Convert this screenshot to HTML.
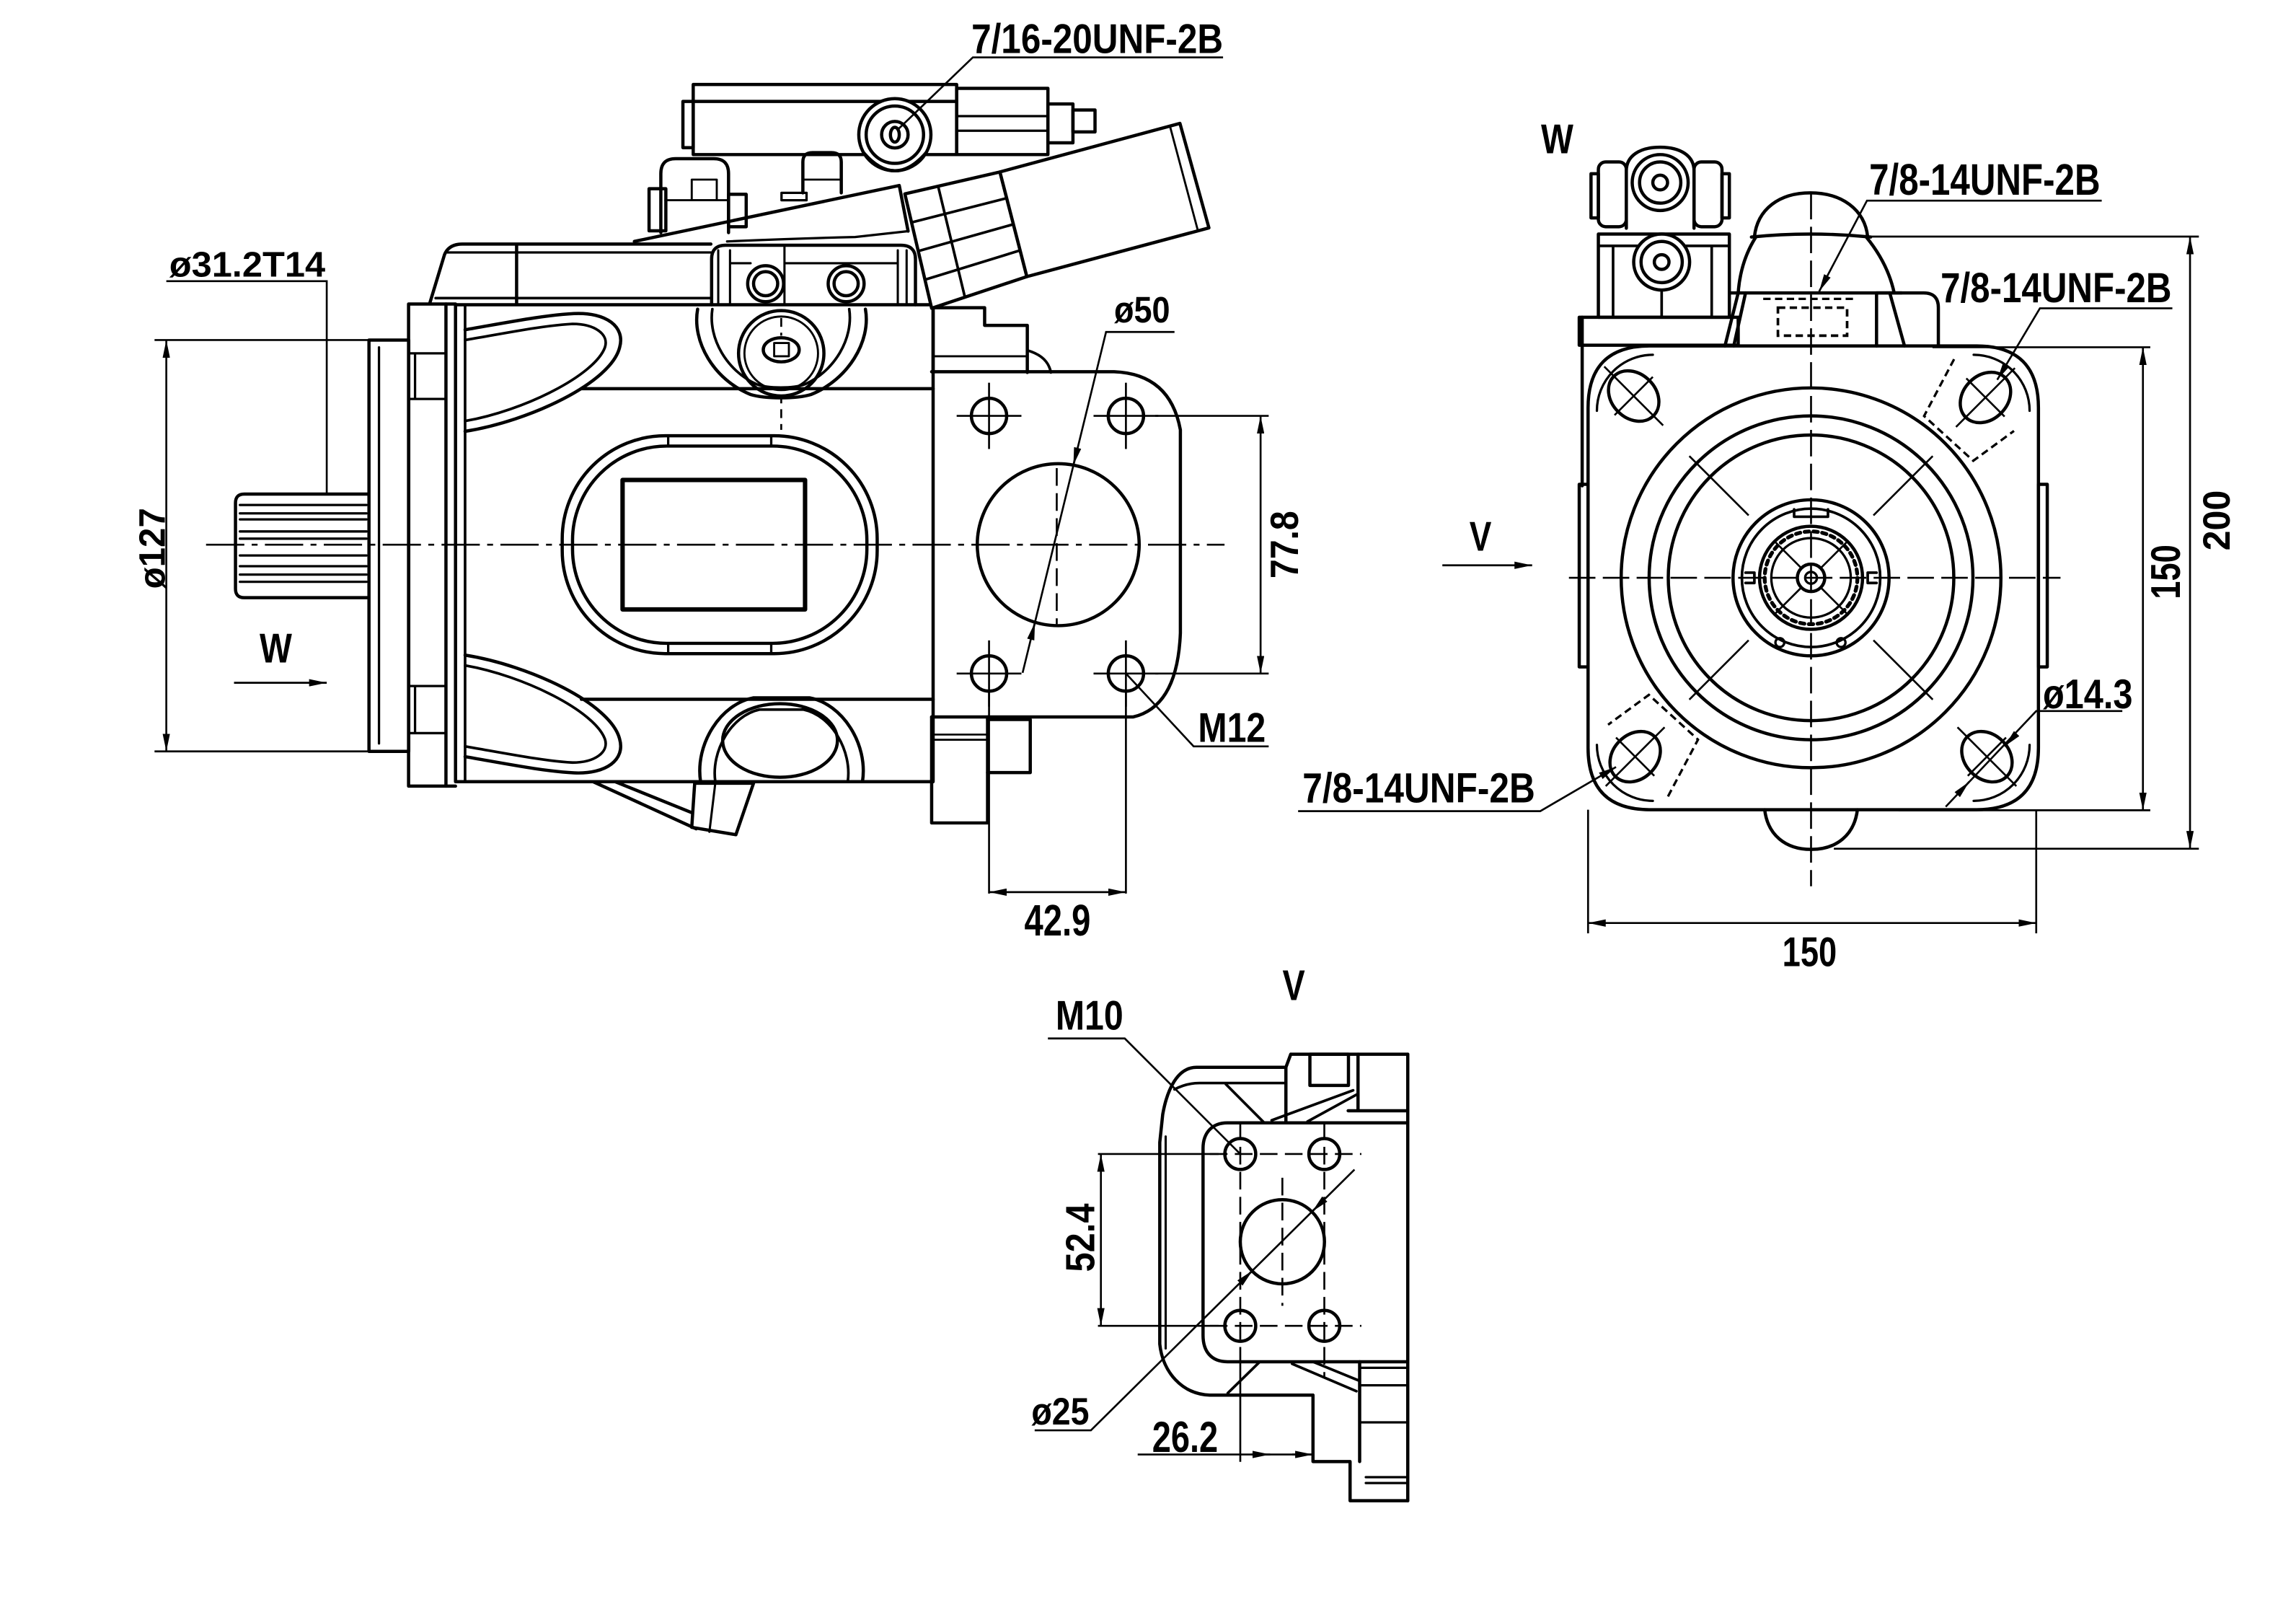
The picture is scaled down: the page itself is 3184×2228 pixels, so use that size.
<!DOCTYPE html>
<html><head><meta charset="utf-8">
<style>
html,body{margin:0;padding:0;background:#fff;}
svg{display:block;}
text{font-family:"Liberation Sans",Arial,sans-serif;font-weight:bold;fill:#000;}
</style></head><body>
<svg xmlns="http://www.w3.org/2000/svg" width="3184" height="2228" viewBox="0 0 1560 1091.6" preserveAspectRatio="none">
<defs>
<marker id="a" viewBox="0 0 12 5" markerWidth="12" markerHeight="5" refX="12" refY="2.5" orient="auto-start-reverse" markerUnits="userSpaceOnUse"><path d="M0,0L12,2.5L0,5Z" fill="#000"/></marker>
</defs>
<rect width="1560" height="1091.6" fill="#fff"/>

<!-- ================= LEFT VIEW ================= -->
<g fill="none" stroke="#000" stroke-width="2.2" stroke-linejoin="round" stroke-linecap="round">
  <!-- spline shaft -->
  <path d="M250,335.6H166Q160,335.6 160,341.6V400Q160,406 166,406H250"/>
  <g stroke-width="1.6">
    <path d="M163,343H249M163,348.7H249M163,352.8H249M163,361H249M163,365.9H249M163,377.3H249M163,384.6H249M163,390.3H249M163,395.2H249"/>
  </g>
  <!-- pilot -->
  <rect x="250.7" y="231" width="27" height="279.4"/>
  <path d="M257.5,236V505" stroke-width="1.6"/>
  <!-- flange -->
  <rect x="277.6" y="206.5" width="25.4" height="327.5"/>
  <path d="M279,240H302M279,271H302M279,466H302M279,498H302M282,240V271M282,466V498" stroke-width="1.6"/>
  <!-- body -->
  <path d="M303,206.5H309.5M303,534H309.5"/>
  <rect x="309.5" y="207" width="324.5" height="324"/>
  <path d="M316,207V531" stroke-width="1.8"/>
  <path d="M395,264H634M395,475H634"/>
  <!-- top lobe -->
  <path d="M316,224C345,219 370,214 390,213C412,212 425,222 421,236C415,260 360,286 316,293"/>
  <path d="M316,231C345,226 370,221 389,220C404,220 414,227 411,236C404,255 356,279 316,286" stroke-width="1.8"/>
  <!-- bottom lobe -->
  <g transform="matrix(1 0 0 -1 0 738)">
    <path d="M316,224C345,219 370,214 390,213C412,212 425,222 421,236C415,260 360,286 316,293"/>
    <path d="M316,231C345,226 370,221 389,220C404,220 414,227 411,236C404,255 356,279 316,286" stroke-width="1.8"/>
  </g>
  <!-- oval window -->
  <rect x="382" y="296" width="214" height="148" rx="70" ry="70"/>
  <rect x="389" y="303" width="200" height="134" rx="64" ry="64"/>
  <path d="M454,296V303M524,296V303M454,437V444M524,437V444" stroke-width="1.6"/>
  <rect x="423" y="326" width="124" height="88" stroke-width="3"/>
  <!-- top cover -->
  <path d="M292,206L302,173Q305,165.8 314,165.8H483"/>
  <path d="M304,171.5H483" stroke-width="1.6"/>
  <path d="M351,166V206"/>
  <path d="M296,202.5H483" stroke-width="1.8"/>
  <!-- port block with two circles -->
  <path d="M483.5,207V176Q483.5,166.6 493,166.6H612Q622,166.6 622,176V207"/>
  <path d="M488,170V207M496,170V207M533,166.6V207M610,170V207M616,170V207M496,178.8H510M533,178.8H610" stroke-width="1.5"/>
  <circle cx="520.2" cy="192.7" r="12.2" fill="#fff"/>
  <circle cx="520.2" cy="192.7" r="8.2"/>
  <circle cx="574.9" cy="192.7" r="12.2" fill="#fff"/>
  <circle cx="574.9" cy="192.7" r="8.2"/>
  <!-- gauge port -->
  <path d="M474,210C470,232 485,258 510,268C520,271 541,271 551,268C576,258 592,232 588,210"/>
  <path d="M484,210C481,230 494,252 514,261C522,264 539,264 547,261C567,252 580,230 577,210" stroke-width="1.8"/>
  <circle cx="530.8" cy="240" r="29"/>
  <circle cx="530.8" cy="240" r="25" stroke-width="1.4"/>
  <ellipse cx="530.8" cy="237.6" rx="12.2" ry="8.2"/>
  <rect x="526" y="233" width="10" height="9" stroke-width="1.4"/>
  <!-- lower port -->
  <path d="M476,531C472,505 490,478 512,474H550C572,478 590,505 586,531"/>
  <path d="M486,531C483,510 497,486 516,482H546C565,486 579,510 576,531" stroke-width="1.8"/>
  <ellipse cx="530" cy="503" rx="39" ry="25"/>
  <!-- drain -->
  <path d="M403,531L473,563M418,531L470,552"/>
  <polygon points="472,532 512,532 500,567 470,562"/>
  <path d="M486,532L482,565" stroke-width="1.5"/>
  <!-- upper right block -->
  <path d="M634,209V253M634,209H669V221H698V253"/>
  <path d="M634,242H698" stroke-width="1.4"/>
  <path d="M698,238Q712,242 714,253" stroke-width="1.8"/>
  <!-- flange SAE -->
  <path d="M633,252.5H757Q795,254 802,292V430Q800,480 770,487H633"/>
  <circle cx="672" cy="282.5" r="12"/>
  <circle cx="765" cy="282.5" r="12"/>
  <circle cx="672" cy="457.5" r="12"/>
  <circle cx="765" cy="457.5" r="12"/>
  <circle cx="719" cy="370" r="55"/>
  <!-- lower block -->
  <path d="M633,487V559H671V487"/>
  <path d="M671,488.7H700V524.8H671"/>
  <path d="M633,499H671M633,502.5H671" stroke-width="1.3"/>
  <!-- valve assembly -->
  <path d="M431,164L611,126L617,157"/>
  <path d="M494,164Q540,162 581,161L617,157" stroke-width="1.6"/>
  <rect x="441" y="128.2" width="11.4" height="28.6"/>
  <path d="M449,158V118Q449,107.8 459,107.8H485Q495,107.8 495,118V158"/>
  <rect x="470" y="122" width="17" height="14" stroke-width="1.4"/>
  <path d="M452,136H495" stroke-width="1.4"/>
  <rect x="495" y="132" width="12" height="22"/>
  <path d="M545.5,131V110Q545.5,103.7 552,103.7H565Q571.6,103.7 571.6,110V131"/>
  <path d="M545.5,122H571.6" stroke-width="1.4"/>
  <rect x="531" y="131" width="17" height="5" stroke-width="1.6"/>
  <rect x="471" y="57.4" width="179" height="47.6"/>
  <path d="M471,68.9H650"/>
  <rect x="464" y="68.9" width="7" height="31.4"/>
  <rect x="650" y="60" width="62" height="45"/>
  <path d="M650,78.9H712M650,88.8H712" stroke-width="1.6"/>
  <rect x="712" y="70.6" width="17" height="26.4"/>
  <rect x="729" y="74.7" width="15" height="14.9"/>
  <circle cx="608" cy="91.5" r="24.5" fill="#fff"/>
  <circle cx="608" cy="91.5" r="19.5"/>
  <circle cx="608" cy="91.5" r="9"/>
  <ellipse cx="608" cy="91.5" rx="3" ry="5"/>
  <path d="M587,104Q608,128 629,104"/>
  <!-- connector -->
  <polygon points="614.8,131.7 679.4,116.8 697.7,187.9 633,209.4" fill="#fff"/>
  <path d="M619.35,151.1L683.98,134.6M623.9,170.55L688.55,152.35M628.45,190L693.1,170.1M637.4,126.5L655.6,201.9" stroke-width="1.8"/>
  <!-- solenoid -->
  <polygon points="679.4,116.8 801.7,83.8 821.4,154.8 697.7,187.9" fill="#fff"/>
  <path d="M795,86L814,157" stroke-width="1.4"/>
</g>

<!-- left view dims & center lines -->
<g fill="none" stroke="#000" stroke-width="1.3">
  <path d="M140,370H832" stroke-dasharray="26 5 4 5"/>
  <path d="M530.8,268V292M530.8,216V228" stroke-dasharray="6 4"/>
  <path d="M718,318V424" stroke-dasharray="12 5"/>
  <path d="M650,282.5H694M743,282.5H787M650,457.5H694M743,457.5H787M672,260V305M765,260V305M672,435V480M765,435V480"/>
  <path d="M113,191H222V335.6"/>
  <path d="M105,231H250M105,510.4H250"/>
  <path d="M113,231V510.4" marker-start="url(#a)" marker-end="url(#a)"/>
  <path d="M785,282.5H862M785,457.5H862"/>
  <path d="M856.5,282.5V457.5" marker-start="url(#a)" marker-end="url(#a)"/>
  <path d="M672,470V607M765,470V607"/>
  <path d="M672,606H765" marker-start="url(#a)" marker-end="url(#a)"/>
  <path d="M798,225.5H751.5L694.8,457"/>
  <path d="M732.2,304.2L729.3,315.9" marker-end="url(#a)"/>
  <path d="M700.3,434.5L703.2,422.8" marker-end="url(#a)"/>
  <path d="M862,507H811L765,457.5"/>
  <path d="M159,463.8H222" marker-end="url(#a)"/>
  <path d="M831,39H661L610,88"/>
</g>

<!-- ================= RIGHT VIEW ================= -->
<g fill="none" stroke="#000" stroke-width="2.2" stroke-linejoin="round" stroke-linecap="round">
  <!-- valve -->
  <path d="M1075,215.5V330"/>
  <rect x="1073" y="215.5" width="108" height="19"/>
  <rect x="1086" y="159" width="89" height="56.5"/>
  <path d="M1086,167H1175M1096,167V215.5M1163,167V215.5M1129,197V215.5" stroke-width="1.8"/>
  <rect x="1086" y="110" width="19" height="44" rx="5"/>
  <rect x="1151" y="110" width="19" height="44" rx="5"/>
  <rect x="1081" y="118" width="5" height="30"/>
  <rect x="1170" y="118" width="5" height="30"/>
  <path d="M1105,155V116C1105,106 1114,100 1128,100C1142,100 1151,106 1151,116V155" fill="#fff"/>
  <circle cx="1128" cy="124" r="19" fill="#fff"/>
  <circle cx="1128" cy="124" r="14"/>
  <circle cx="1128" cy="124" r="5"/>
  <circle cx="1129" cy="178" r="19" fill="#fff"/>
  <circle cx="1129" cy="178" r="14"/>
  <circle cx="1129" cy="178" r="5"/>
  <!-- dome -->
  <path d="M1192,161C1194,142 1209,131 1230,131C1251,131 1267,142 1269,161"/>
  <path d="M1190,161Q1230,157 1271,161"/>
  <path d="M1193,161C1186,172 1182,185 1181,199M1268,161C1277,172 1284,185 1287,199M1176,199H1292"/>
  <path d="M1186,199L1178,235M1181,199L1172,235M1284,199L1294,235"/>
  <path d="M1275,235V199H1307Q1317,199 1317,209V235"/>
  <!-- square flange -->
  <path d="M1121,235H1343Q1385,235 1385,277V508Q1385,550 1343,550H1121Q1079,550 1079,508V277Q1079,235 1121,235Z"/>
  <path d="M1085,279A38,38 0 0 1 1123,241M1341,241A38,38 0 0 1 1379,279M1379,506A38,38 0 0 1 1341,544M1123,544A38,38 0 0 1 1085,506" stroke-width="1.6"/>
  <rect x="1073" y="329" width="6" height="124"/>
  <rect x="1385" y="329" width="6" height="124"/>
  <!-- circles -->
  <circle cx="1230.5" cy="392.5" r="129"/>
  <circle cx="1230.5" cy="392.5" r="110"/>
  <circle cx="1230.5" cy="392.5" r="97"/>
  <circle cx="1230.5" cy="392.5" r="53"/>
  <circle cx="1230.5" cy="392.5" r="47" stroke-width="1.8"/>
  <path d="M1219,346V351H1242V346M1186,389H1192V396H1186M1275,389H1269V396H1275" stroke-width="1.8"/>
  <circle cx="1209.3" cy="436.5" r="3" stroke-width="1.6"/>
  <circle cx="1250.9" cy="436.5" r="3" stroke-width="1.6"/>
  <circle cx="1230.5" cy="392.5" r="35"/>
  <circle cx="1230.5" cy="392.5" r="31.5" stroke-width="2.6" stroke-dasharray="3 3"/>
  <circle cx="1230.5" cy="392.5" r="27" stroke-width="1.6"/>
  <circle cx="1230.5" cy="392.5" r="9.3"/>
  <circle cx="1230.5" cy="392.5" r="4" stroke-width="1.6"/>
  <!-- corner holes -->
  <ellipse cx="1110" cy="269" rx="19" ry="15" transform="rotate(45 1110 269)"/>
  <ellipse cx="1349" cy="270" rx="19" ry="15" transform="rotate(-45 1349 270)"/>
  <ellipse cx="1111" cy="514" rx="19" ry="15" transform="rotate(-45 1111 514)"/>
  <ellipse cx="1350" cy="514" rx="19" ry="15" transform="rotate(45 1350 514)"/>
  <!-- bottom dome -->
  <path d="M1199,550C1201,567 1213,577 1230.5,577C1248,577 1260,567 1262,550"/>
</g>

<g fill="none" stroke="#000" stroke-width="1.3">
  <path d="M1230.5,131V602M1066,392.5H1400" stroke-dasharray="18 5"/>
  <rect x="1208" y="209" width="47" height="19" stroke-width="1.8" stroke-dasharray="5 3"/>
  <path d="M1198,203H1262" stroke-width="1.6" stroke-dasharray="5 3"/>
  <path d="M1272.9,350.1L1313.2,309.8M1188.1,350.1L1147.8,309.8M1188.1,434.9L1147.8,475.2M1272.9,434.9L1313.2,475.2"/>
  <path d="M1237,386L1255,368M1224,386L1206,368M1224,399L1206,417M1237,399L1255,417"/>
  <path d="M1090,249L1130,289M1123,256L1097,282M1369,250L1329,290M1336,257L1362,283M1091,534L1131,494M1124,527L1098,501M1330,494L1370,534M1363,501L1337,527"/>
  <path d="M1327.7,244L1307.3,282.6L1340.7,313L1368.4,292.7M1133.3,541L1153.7,502.4L1120.3,472L1092.6,492.3" stroke-width="1.6" stroke-dasharray="5 3"/>
  <!-- dims -->
  <path d="M1313,235.9H1461M1290,550.4H1461"/>
  <path d="M1456,235.9V550.4" marker-start="url(#a)" marker-end="url(#a)"/>
  <path d="M1265,160.7H1494M1246,576.5H1494"/>
  <path d="M1488,160.7V576.5" marker-start="url(#a)" marker-end="url(#a)"/>
  <path d="M1079,550V634M1383.5,550V634"/>
  <path d="M1079,627H1383.5" marker-start="url(#a)" marker-end="url(#a)"/>
  <path d="M1442,483H1383.5L1322,548"/>
  <path d="M1370,498.5L1362,507" marker-end="url(#a)"/>
  <path d="M1330,539.6L1338,531" marker-end="url(#a)"/>
  <path d="M1428,136.3H1268.5L1236,198" marker-end="url(#a)"/>
  <path d="M1476,209.4H1386L1357,258" marker-end="url(#a)"/>
  <path d="M882,551H1046.5L1098,521" marker-end="url(#a)"/>
  <path d="M980,384H1041" marker-end="url(#a)"/>
</g>

<!-- ================= BOTTOM VIEW ================= -->
<g fill="none" stroke="#000" stroke-width="2.2" stroke-linejoin="round" stroke-linecap="round">
  <path d="M873.7,725H813C800,725 793,740 790,757L788,776V913C790,932 803,947 822,947.7H892.1"/>
  <path d="M792,772V916" stroke-width="1.5"/>
  <path d="M798,740Q806,735.7 815,735.7H873.7" stroke-width="1.8"/>
  <path d="M956,762.7H834C823,762.7 817.4,770 817.4,780V907C817.4,918 823,925 834,925H956"/>
  <path d="M956.5,716.1V1019.4"/>
  <path d="M873.7,725V762.7M877,716.1H956.5M873.7,725L877,716.1"/>
  <rect x="890" y="716.1" width="26.2" height="21.2"/>
  <path d="M922.7,716.1V754.5M916,754.5H956.5"/>
  <path d="M832.9,736.5L859,762.7M864,761L919.4,740.6M888.4,761.8L922.7,743" stroke-width="1.8"/>
  <path d="M834.2,946.3L856,925M877.9,926.4L921.6,945M892,925L923.8,938" stroke-width="1.8"/>
  <path d="M892.1,947.7V992.8H917.3M923.8,925V992.8M917.3,992.8V1019.4H956.5"/>
  <path d="M923.8,929.1H956.5M923.8,941H956.5M923.8,966.2H956.5M928,1003.4H956.5M928,1007.4H956.5" stroke-width="1.6"/>
  <circle cx="842.7" cy="783.9" r="10.5"/>
  <circle cx="899.8" cy="783.9" r="10.5"/>
  <circle cx="842.7" cy="900.6" r="10.5"/>
  <circle cx="899.8" cy="900.6" r="10.5"/>
  <circle cx="871.3" cy="843.5" r="28.6"/>
</g>
<g fill="none" stroke="#000" stroke-width="1.3">
  <path d="M822,783.9H925M822,900.6H925" stroke-dasharray="12 5"/>
  <path d="M842.7,762V925M899.8,762V935M871.3,800V887" stroke-dasharray="12 5"/>
  <path d="M746,783.9H828M746,900.6H828"/>
  <path d="M748,783.9V900.6" marker-start="url(#a)" marker-end="url(#a)"/>
  <path d="M712,705.4H764.2L842.7,783.9"/>
  <path d="M703,971.6H741.2L920.3,794.5"/>
  <path d="M842.5,871.5L851,863.1" marker-end="url(#a)"/>
  <path d="M900.1,814.5L891.6,822.9" marker-end="url(#a)"/>
  <path d="M773,988H893M842.7,925V993"/>
  <path d="M850,988H863" marker-end="url(#a)"/>
  <path d="M878,988H892" marker-end="url(#a)"/>
</g>

<!-- ================= TEXT ================= -->
<g>
  <text x="660" y="36" font-size="28" textLength="171" lengthAdjust="spacingAndGlyphs">7/16-20UNF-2B</text>
  <text x="115" y="188" font-size="24" textLength="106" lengthAdjust="spacingAndGlyphs">ø31.2T14</text>
  <text transform="translate(112,400) rotate(-90)" font-size="25" textLength="55" lengthAdjust="spacingAndGlyphs">ø127</text>
  <text x="176.4" y="450" font-size="28" textLength="22" lengthAdjust="spacingAndGlyphs">W</text>
  <text x="757" y="219" font-size="25" textLength="38" lengthAdjust="spacingAndGlyphs">ø50</text>
  <text transform="translate(882,393) rotate(-90)" font-size="27" textLength="46" lengthAdjust="spacingAndGlyphs">77.8</text>
  <text x="814" y="504" font-size="28" textLength="46" lengthAdjust="spacingAndGlyphs">M12</text>
  <text x="696" y="635.5" font-size="30" textLength="45" lengthAdjust="spacingAndGlyphs">42.9</text>

  <text x="1047" y="104" font-size="28" textLength="22" lengthAdjust="spacingAndGlyphs">W</text>
  <text x="1270" y="132.3" font-size="30" textLength="157" lengthAdjust="spacingAndGlyphs">7/8-14UNF-2B</text>
  <text x="1318.5" y="205.4" font-size="28.5" textLength="157" lengthAdjust="spacingAndGlyphs">7/8-14UNF-2B</text>
  <text x="1388" y="481.2" font-size="28" textLength="61" lengthAdjust="spacingAndGlyphs">ø14.3</text>
  <text x="885" y="545" font-size="28.5" textLength="158" lengthAdjust="spacingAndGlyphs">7/8-14UNF-2B</text>
  <text x="998.4" y="374" font-size="28" textLength="15" lengthAdjust="spacingAndGlyphs">V</text>
  <text transform="translate(1481,407) rotate(-90)" font-size="28" textLength="37" lengthAdjust="spacingAndGlyphs">150</text>
  <text transform="translate(1515,374) rotate(-90)" font-size="26" textLength="41" lengthAdjust="spacingAndGlyphs">200</text>
  <text x="1211" y="656.3" font-size="28" textLength="37" lengthAdjust="spacingAndGlyphs">150</text>

  <text x="871.4" y="679.4" font-size="29" textLength="15.3" lengthAdjust="spacingAndGlyphs">V</text>
  <text x="717.2" y="699.3" font-size="28" textLength="46" lengthAdjust="spacingAndGlyphs">M10</text>
  <text transform="translate(743.4,864) rotate(-90)" font-size="27.5" textLength="46.5" lengthAdjust="spacingAndGlyphs">52.4</text>
  <text x="700.8" y="967.6" font-size="26" textLength="39.3" lengthAdjust="spacingAndGlyphs">ø25</text>
  <text x="782.8" y="986.2" font-size="29.5" textLength="44.8" lengthAdjust="spacingAndGlyphs">26.2</text>
</g>
</svg>
</body></html>
